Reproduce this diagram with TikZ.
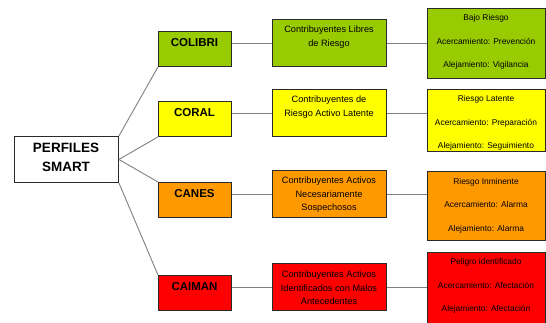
\documentclass[tikz,border=0pt]{standalone}
\usepackage{fontspec}
\setmainfont{Liberation Sans}
\definecolor{cgreen}{HTML}{99CC00}
\definecolor{cyellow}{HTML}{FFFF00}
\definecolor{corange}{HTML}{FF9900}
\definecolor{cred}{HTML}{FF0000}
\definecolor{cborder}{HTML}{2A2A2A}
\definecolor{clink}{HTML}{808080}
\begin{document}
\begin{tikzpicture}[x=1pt,y=-1pt,
  box/.style={draw=cborder, line width=0.9pt, inner sep=0pt, anchor=north west},
  rootbox/.style={box, fill=white, minimum width=104pt, minimum height=46pt},
  lonebox/.style={box, minimum width=73pt, minimum height=35pt},
  ltwobox/.style={box, minimum width=114pt, minimum height=47pt},
  lthreebox/.style={box, minimum width=118pt},
  link/.style={draw=clink, line width=0.9pt},
  roottext/.style={inner sep=0pt, align=center, font=\fontsize{13.5}{19}\selectfont\bfseries},
  lonetext/.style={inner sep=0pt, align=center, font=\fontsize{11.5}{13}\selectfont\bfseries},
  ltwotext/.style={inner sep=0pt, align=center, font=\fontsize{9.2}{13.4}\selectfont},
  lthreetext/.style={inner sep=0pt, align=center, font=\fontsize{8.4}{23.5}\selectfont}
]
\useasboundingbox (0,0) rectangle (546,322);
\fill[white] (0,0) rectangle (546,322);

% root
\node[rootbox] (root) at (14,136) {};
\node[roottext] (rootT) at (66,157) {PERFILES\\SMART};

% level 1
\node[lonebox, fill=cgreen]  (colibri) at (158,31) {};
\node[lonebox, fill=cyellow] (coral)   at (158,101) {};
\node[lonebox, fill=corange] (canes)   at (158,182) {};
\node[lonebox, fill=cred]    (caiman)  at (158,275) {};
\node[lonetext] (colibriT) at (194.5,43) {COLIBRI};
\node[lonetext] (coralT)   at (194.5,113) {CORAL};
\node[lonetext] (canesT)   at (194.5,194) {CANES};
\node[lonetext] (caimanT)  at (194.5,287) {CAIMAN};

% level 2
\node[ltwobox, fill=cgreen]  (ta) at (272,19) {};
\node[ltwobox, fill=cyellow] (tb) at (272,89) {};
\node[ltwobox, fill=corange] (tc) at (272,170) {};
\node[ltwobox, fill=cred]    (td) at (272,263) {};
\node[ltwotext] (taT) at (329,37) {Contribuyentes Libres\\de Riesgo};
\node[ltwotext] (tbT) at (329,107) {Contribuyentes de\\Riesgo Activo Latente};
\node[ltwotext] (tcT) at (329,195) {Contribuyentes Activos\\Necesariamente\\Sospechosos};
\node[ltwotext] (tdT) at (329,288) {Contribuyentes Activos\\Identificados con Malos\\Antecedentes};

% level 3
\node[lthreebox, fill=cgreen,  minimum height=70pt] (ha) at (427,8) {};
\node[lthreebox, fill=cyellow, minimum height=62pt] (hb) at (427,89) {};
\node[lthreebox, fill=corange, minimum height=69pt] (hc) at (427,171) {};
\node[lthreebox, fill=cred,    minimum height=72pt] (hd) at (427,252) {};
\node[lthreetext] (haT) at (486,42) {Bajo Riesgo\\Acercamiento: Prevención\\Alejamiento: Vigilancia};
\node[lthreetext] (hbT) at (486,123) {Riesgo Latente\\Acercamiento: Preparación\\Alejamiento: Seguimiento};
\node[lthreetext] (hcT) at (486,205.5) {Riesgo Inminente\\Acercamiento: Alarma\\Alejamiento: Alarma};
\node[lthreetext] (hdT) at (486,286) {Peligro identificado\\Acercamiento: Afectación\\Alejamiento: Afectación};

% connectors root -> level 1
\draw[link] (root.north east) -- (colibri.south west);
\draw[link] (root.east) -- (coral.south west);
\draw[link] (root.east) -- (canes.north west);
\draw[link] (root.south east) -- (caiman.north west);

% level 1 -> level 2
\draw[link] (colibri.east |- ta.west) -- (ta.west);
\draw[link] (coral.east |- tb.west) -- (tb.west);
\draw[link] (canes.east |- tc.west) -- (tc.west);
\draw[link] (caiman.east |- td.west) -- (td.west);

% level 2 -> level 3
\draw[link] (ta.east) -- (ha.west |- ta.east);
\draw[link] (tb.east) -- (hb.west |- tb.east);
\draw[link] (tc.east) -- (hc.west |- tc.east);
\draw[link] (td.east) -- (hd.west |- td.east);
\end{tikzpicture}
\end{document}
